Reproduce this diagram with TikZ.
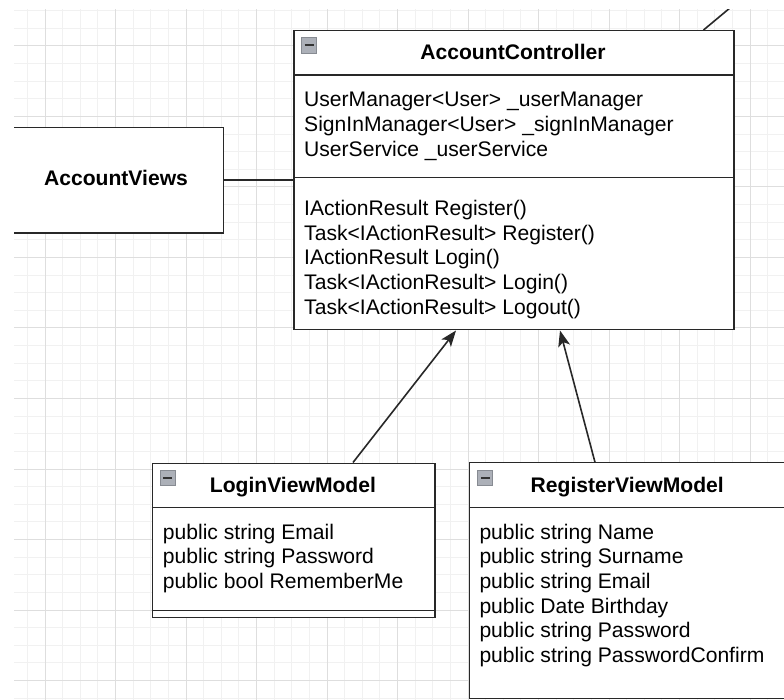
\documentclass[tikz,border=0pt]{standalone}
\usepackage{fontspec}
\setmainfont{Liberation Sans}
\usetikzlibrary{arrows.meta,calc}
\definecolor{gminor}{RGB}{241,241,241}
\definecolor{gmajor}{RGB}{222,222,222}
\definecolor{strokec}{RGB}{40,40,40}
\definecolor{iconfill}{RGB}{172,176,184}
\definecolor{iconline}{RGB}{135,139,146}
\tikzset{
  box/.style={draw=strokec, line width=1.5pt, fill=white, inner sep=0pt, anchor=north west},
  openbox/.style={fill=white, inner sep=0pt, anchor=north west},
  txt/.style={anchor=base west, inner sep=0pt, font=\fontsize{21.1}{24.6}\selectfont, text=black},
  ttl/.style={anchor=base, inner sep=0pt, font=\fontsize{21.1}{24.6}\selectfont\bfseries, text=black},
  sepline/.style={draw=strokec, line width=1.5pt},
  conn/.style={draw=strokec, line width=1.6pt},
  arr/.style={draw=strokec, line width=1.6pt, -{Stealth[length=16pt,width=12pt,inset=4pt]}},
  icon/.style={draw=iconline, fill=iconfill, line width=1pt, minimum width=15pt, minimum height=15.5pt, inner sep=0pt,
    path picture={\draw[line width=2.4pt, black!80] ([xshift=3pt]path picture bounding box.west) -- ([xshift=-3pt]path picture bounding box.east);}},
  gminorline/.style={draw=gminor, line width=1pt},
  gmajorline/.style={draw=gmajor, line width=1pt}
}
\begin{document}
\begin{tikzpicture}[x=1pt, y=-1pt]
\useasboundingbox (0,0) rectangle (784,700);
\fill[white] (0,0) rectangle (784,700);
\begin{scope}
\clip (14,10) rectangle (784,700);
% grid
\foreach \i in {0,...,44} { \draw[gminorline] ({9.75+\i*17.625},0) -- ++(0,710); }
\foreach \i in {0,...,40} { \draw[gminorline] (0,{10.75+\i*17.625}) -- ++(800,0); }
\foreach \i in {0,...,11} { \draw[gmajorline] ({-25.5+\i*70.5},0) -- ++(0,710); }
\foreach \i in {0,...,10} { \draw[gmajorline] (0,{-24.5+\i*70.5}) -- ++(800,0); }

% AccountController
\node[box, minimum width=440pt, minimum height=299pt] (ac) at (293,30) {};
\draw[sepline] (ac.west |- 0,75) -- (ac.east |- 0,75);
\draw[sepline] (ac.west |- 0,177.3) -- (ac.east |- 0,177.3);
\node[icon] (aci) at (309.2,45.3) {};
\node[ttl] (act) at (513,60) {AccountController};
\node[txt] (aca1) at (304,107) {UserManager<User> \_userManager};
\node[txt] (aca2) at (304,131.6) {SignInManager<User> \_signInManager};
\node[txt] (aca3) at (304,156.2) {UserService \_userService};
\node[txt] (acm1) at (304,215.7) {IActionResult Register()};
\node[txt] (acm2) at (304,240.3) {Task<IActionResult> Register()};
\node[txt] (acm3) at (304,264.9) {IActionResult Login()};
\node[txt] (acm4) at (304,289.5) {Task<IActionResult> Login()};
\node[txt] (acm5) at (304,314.1) {Task<IActionResult> Logout()};

% connector leaving the top
\coordinate (trend) at (739.5,0);
\draw[conn] ([xshift=-31pt]ac.north east) -- (trend);

% AccountViews
\node[box, minimum width=250.5pt, minimum height=105.5pt] (av) at (-28,126.7) {};
\node[ttl] (avt) at (116,186) {AccountViews};
\draw[conn] (av.east) -- (av.east -| ac.west);

% LoginViewModel
\node[box, minimum width=282.3pt, minimum height=154.2pt] (lvm) at (151.7,462.5) {};
\draw[sepline] (lvm.west |- 0,507.3) -- (lvm.east |- 0,507.3);
\draw[sepline] (lvm.west |- 0,610.7) -- (lvm.east |- 0,610.7);
\node[icon] (lvmi) at (167.9,478.2) {};
\node[ttl] (lvmt) at (292.9,492.7) {LoginViewModel};
\node[txt] (lvm1) at (162.7,539.3) {public string Email};
\node[txt] (lvm2) at (162.7,563.9) {public string Password};
\node[txt] (lvm3) at (162.7,588.5) {public bool RememberMe};

% RegisterViewModel (runs past the right edge of the picture)
\node[openbox, minimum width=330pt, minimum height=236pt] (rvm) at (469.3,462.3) {};
\draw[sepline] (rvm.north east) -- (rvm.north west) -- (rvm.south west) -- (rvm.south east);
\draw[sepline] (rvm.west |- 0,507.3) -- (rvm.east |- 0,507.3);
\node[icon] (rvmi) at (485.3,478.2) {};
\node[ttl] (rvmt) at (627.2,492.7) {RegisterViewModel};
\node[txt] (rvm1) at (479.3,539.3) {public string Name};
\node[txt] (rvm2) at (479.3,563.9) {public string Surname};
\node[txt] (rvm3) at (479.3,588.5) {public string Email};
\node[txt] (rvm4) at (479.3,613.1) {public Date Birthday};
\node[txt] (rvm5) at (479.3,637.7) {public string Password};
\node[txt] (rvm6) at (479.3,662.3) {public string PasswordConfirm};

% arrows
\draw[arr] ([xshift=201.3pt]lvm.north west) -- ([xshift=163pt]ac.south west);
\draw[arr] ([xshift=125.7pt]rvm.north west) -- ([xshift=267pt]ac.south west);
\end{scope}
\end{tikzpicture}
\end{document}
